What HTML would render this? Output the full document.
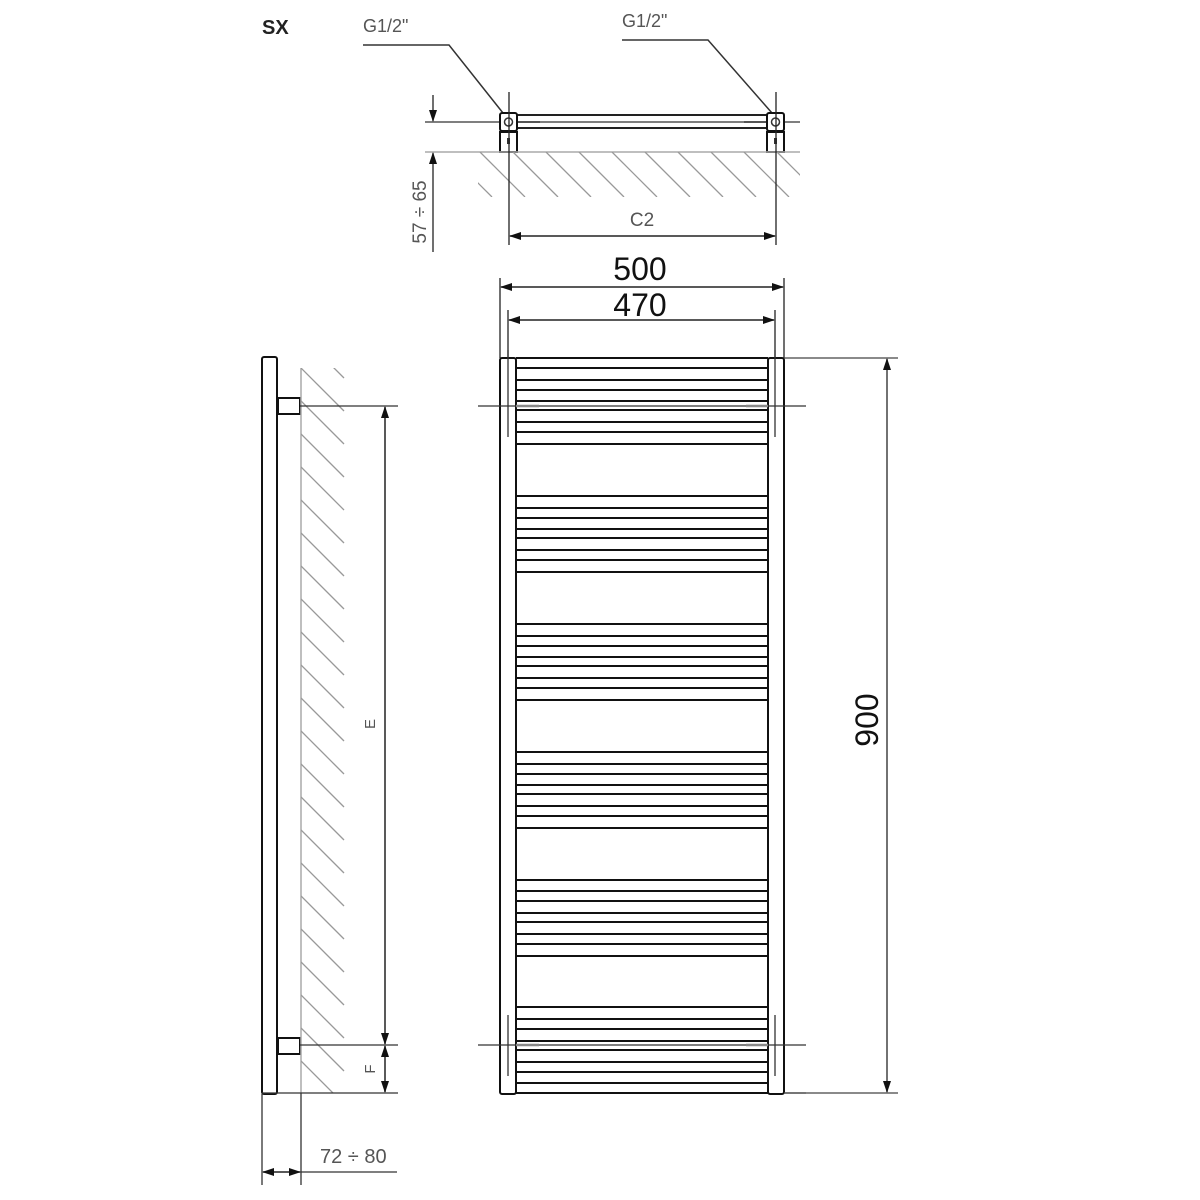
<!DOCTYPE html>
<html><head><meta charset="utf-8"><style>
html,body{margin:0;padding:0;background:#fff;}
svg{display:block;}
text{font-family:"Liberation Sans",sans-serif;}
</style></head><body>
<svg width="1200" height="1200" viewBox="0 0 1200 1200" xmlns="http://www.w3.org/2000/svg">
<defs>
<marker id="a" markerWidth="12" markerHeight="8" refX="11" refY="4" orient="auto-start-reverse" markerUnits="userSpaceOnUse">
<path d="M0,0 L12,4 L0,8 Z" fill="#111"/></marker>
<clipPath id="ct"><rect x="478" y="152" width="322" height="45"/></clipPath>
<clipPath id="cs"><rect x="301" y="368" width="50" height="725"/></clipPath>
</defs>

<text x="262" y="34" font-size="20" font-weight="bold" fill="#222">SX</text>

<!-- TOP VIEW -->
<text x="363" y="32" font-size="18" fill="#555">G1/2"</text>
<text x="622" y="27" font-size="18" fill="#555">G1/2"</text>
<polyline points="363,45 449,45 503,113" fill="none" stroke="#333" stroke-width="1.5"/>
<polyline points="622,40 708,40 772,113" fill="none" stroke="#333" stroke-width="1.5"/>
<!-- tube -->
<line x1="512" y1="115" x2="770" y2="115" stroke="#222" stroke-width="2"/>
<line x1="512" y1="128" x2="770" y2="128" stroke="#222" stroke-width="2"/>
<line x1="425" y1="122" x2="800" y2="122" stroke="#333" stroke-width="1.2"/>
<line x1="510" y1="122" x2="540" y2="122" stroke="#555" stroke-width="2"/>
<line x1="744" y1="122" x2="772" y2="122" stroke="#555" stroke-width="2"/>
<!-- connectors -->
<rect x="500" y="113" width="17" height="18" rx="2" fill="#fff" stroke="#111" stroke-width="2"/>
<circle cx="508.5" cy="122" r="4" fill="none" stroke="#333" stroke-width="1.5"/>
<rect x="500" y="132" width="17" height="20" fill="#fff" stroke="#111" stroke-width="2"/>
<rect x="507" y="138" width="3" height="6" fill="#333"/>
<rect x="767" y="113" width="17" height="18" rx="2" fill="#fff" stroke="#111" stroke-width="2"/>
<circle cx="775.5" cy="122" r="4" fill="none" stroke="#333" stroke-width="1.5"/>
<rect x="767" y="132" width="17" height="20" fill="#fff" stroke="#111" stroke-width="2"/>
<rect x="774" y="138" width="3" height="6" fill="#333"/>
<!-- wall -->
<line x1="425" y1="152" x2="800" y2="152" stroke="#aaa" stroke-width="1.5"/>
<g clip-path="url(#ct)" stroke="#999" stroke-width="1.3">
<line x1="447" y1="152" x2="492" y2="197"/><line x1="480" y1="152" x2="525" y2="197"/>
<line x1="513" y1="152" x2="558" y2="197"/><line x1="546" y1="152" x2="591" y2="197"/>
<line x1="579" y1="152" x2="624" y2="197"/><line x1="612" y1="152" x2="657" y2="197"/>
<line x1="645" y1="152" x2="690" y2="197"/><line x1="678" y1="152" x2="723" y2="197"/>
<line x1="711" y1="152" x2="756" y2="197"/><line x1="744" y1="152" x2="789" y2="197"/>
<line x1="777" y1="152" x2="822" y2="197"/>
</g>
<!-- extension lines -->
<line x1="509" y1="92" x2="509" y2="245" stroke="#222" stroke-width="1.3"/>
<line x1="776" y1="92" x2="776" y2="245" stroke="#222" stroke-width="1.3"/>
<!-- 57-65 dim -->
<line x1="433" y1="95" x2="433" y2="121" stroke="#222" stroke-width="1.3" marker-end="url(#a)"/>
<line x1="433" y1="252" x2="433" y2="153" stroke="#222" stroke-width="1.3" marker-end="url(#a)"/>
<text transform="translate(426,212) rotate(-90)" font-size="19" fill="#555" text-anchor="middle">57 ÷ 65</text>
<!-- C2 -->
<line x1="510" y1="236" x2="775" y2="236" stroke="#222" stroke-width="1.5" marker-start="url(#a)" marker-end="url(#a)"/>
<text x="642" y="226" font-size="19" fill="#555" text-anchor="middle">C2</text>

<!-- FRONT VIEW dims -->
<line x1="500" y1="278" x2="500" y2="358" stroke="#222" stroke-width="1.3"/>
<line x1="784" y1="278" x2="784" y2="358" stroke="#222" stroke-width="1.3"/>
<line x1="508" y1="310" x2="508" y2="358" stroke="#222" stroke-width="1.3"/>
<line x1="775" y1="310" x2="775" y2="358" stroke="#222" stroke-width="1.3"/>
<line x1="501" y1="287" x2="783" y2="287" stroke="#222" stroke-width="1.5" marker-start="url(#a)" marker-end="url(#a)"/>
<line x1="509" y1="320" x2="774" y2="320" stroke="#222" stroke-width="1.5" marker-start="url(#a)" marker-end="url(#a)"/>
<text x="640" y="280" font-size="32" fill="#111" text-anchor="middle">500</text>
<text x="640" y="316" font-size="32" fill="#111" text-anchor="middle">470</text>

<!-- radiator -->
<rect x="500" y="358" width="16" height="736" rx="2" fill="none" stroke="#111" stroke-width="2"/>
<rect x="768" y="358" width="16" height="736" rx="2" fill="none" stroke="#111" stroke-width="2"/>
<g stroke="#111" stroke-width="2">
<line x1="516" y1="358" x2="768" y2="358"/>
<line x1="516" y1="1093" x2="768" y2="1093"/>
<line x1="516" y1="368" x2="768" y2="368"/><line x1="516" y1="380" x2="768" y2="380"/><line x1="516" y1="390" x2="768" y2="390"/><line x1="516" y1="401" x2="768" y2="401"/><line x1="516" y1="410" x2="768" y2="410"/><line x1="516" y1="422" x2="768" y2="422"/><line x1="516" y1="432" x2="768" y2="432"/><line x1="516" y1="444" x2="768" y2="444"/>
<line x1="516" y1="496" x2="768" y2="496"/><line x1="516" y1="508" x2="768" y2="508"/><line x1="516" y1="518" x2="768" y2="518"/><line x1="516" y1="529" x2="768" y2="529"/><line x1="516" y1="538" x2="768" y2="538"/><line x1="516" y1="550" x2="768" y2="550"/><line x1="516" y1="560" x2="768" y2="560"/><line x1="516" y1="572" x2="768" y2="572"/>
<line x1="516" y1="624" x2="768" y2="624"/><line x1="516" y1="636" x2="768" y2="636"/><line x1="516" y1="646" x2="768" y2="646"/><line x1="516" y1="657" x2="768" y2="657"/><line x1="516" y1="666" x2="768" y2="666"/><line x1="516" y1="678" x2="768" y2="678"/><line x1="516" y1="688" x2="768" y2="688"/><line x1="516" y1="700" x2="768" y2="700"/>
<line x1="516" y1="752" x2="768" y2="752"/><line x1="516" y1="764" x2="768" y2="764"/><line x1="516" y1="774" x2="768" y2="774"/><line x1="516" y1="785" x2="768" y2="785"/><line x1="516" y1="794" x2="768" y2="794"/><line x1="516" y1="806" x2="768" y2="806"/><line x1="516" y1="816" x2="768" y2="816"/><line x1="516" y1="828" x2="768" y2="828"/>
<line x1="516" y1="880" x2="768" y2="880"/><line x1="516" y1="891" x2="768" y2="891"/><line x1="516" y1="901" x2="768" y2="901"/><line x1="516" y1="913" x2="768" y2="913"/><line x1="516" y1="922" x2="768" y2="922"/><line x1="516" y1="934" x2="768" y2="934"/><line x1="516" y1="944" x2="768" y2="944"/><line x1="516" y1="956" x2="768" y2="956"/>
<line x1="516" y1="1007" x2="768" y2="1007"/><line x1="516" y1="1019" x2="768" y2="1019"/><line x1="516" y1="1029" x2="768" y2="1029"/><line x1="516" y1="1041" x2="768" y2="1041"/><line x1="516" y1="1050" x2="768" y2="1050"/><line x1="516" y1="1062" x2="768" y2="1062"/><line x1="516" y1="1072" x2="768" y2="1072"/><line x1="516" y1="1083" x2="768" y2="1083"/>
</g>
<!-- connection markers -->
<g stroke="#333" stroke-width="1.3">
<line x1="478" y1="406" x2="806" y2="406"/>
<line x1="478" y1="1045" x2="806" y2="1045"/>
<line x1="508" y1="350" x2="508" y2="437"/><line x1="775" y1="350" x2="775" y2="437"/>
<line x1="508" y1="1015" x2="508" y2="1076"/><line x1="775" y1="1015" x2="775" y2="1076"/>
</g>
<g stroke="#888" stroke-width="2.5">
<line x1="516" y1="406" x2="539" y2="406"/><line x1="746" y1="406" x2="768" y2="406"/>
<line x1="516" y1="1045" x2="539" y2="1045"/><line x1="746" y1="1045" x2="768" y2="1045"/>
</g>
<line x1="784" y1="1093" x2="806" y2="1093" stroke="#333" stroke-width="1.3"/>
<!-- 900 -->
<line x1="784" y1="358" x2="898" y2="358" stroke="#444" stroke-width="1.3"/>
<line x1="784" y1="1093" x2="898" y2="1093" stroke="#444" stroke-width="1.3"/>
<line x1="887" y1="359" x2="887" y2="1092" stroke="#444" stroke-width="1.5" marker-start="url(#a)" marker-end="url(#a)"/>
<text transform="translate(878,720) rotate(-90)" font-size="32" fill="#111" text-anchor="middle">900</text>

<!-- SIDE VIEW -->
<rect x="262" y="357" width="15" height="737" rx="2" fill="none" stroke="#111" stroke-width="2"/>
<rect x="278" y="398" width="22" height="16" fill="#fff" stroke="#111" stroke-width="2"/>
<rect x="278" y="1038" width="22" height="16" fill="#fff" stroke="#111" stroke-width="2"/>
<line x1="301" y1="368" x2="301" y2="1093" stroke="#aaa" stroke-width="1.5"/>
<g clip-path="url(#cs)" stroke="#999" stroke-width="1.3">
<line x1="301" y1="335" x2="344" y2="378"/><line x1="301" y1="368" x2="344" y2="411"/>
<line x1="301" y1="401" x2="344" y2="444"/><line x1="301" y1="434" x2="344" y2="477"/>
<line x1="301" y1="467" x2="344" y2="510"/><line x1="301" y1="500" x2="344" y2="543"/>
<line x1="301" y1="533" x2="344" y2="576"/><line x1="301" y1="566" x2="344" y2="609"/>
<line x1="301" y1="599" x2="344" y2="642"/><line x1="301" y1="632" x2="344" y2="675"/>
<line x1="301" y1="665" x2="344" y2="708"/><line x1="301" y1="698" x2="344" y2="741"/>
<line x1="301" y1="731" x2="344" y2="774"/><line x1="301" y1="764" x2="344" y2="807"/>
<line x1="301" y1="797" x2="344" y2="840"/><line x1="301" y1="830" x2="344" y2="873"/>
<line x1="301" y1="863" x2="344" y2="906"/><line x1="301" y1="896" x2="344" y2="939"/>
<line x1="301" y1="929" x2="344" y2="972"/><line x1="301" y1="962" x2="344" y2="1005"/>
<line x1="301" y1="995" x2="344" y2="1038"/><line x1="301" y1="1028" x2="344" y2="1071"/>
<line x1="301" y1="1061" x2="334" y2="1094"/>
</g>
<g stroke="#333" stroke-width="1.3">
<line x1="300" y1="406" x2="398" y2="406"/>
<line x1="300" y1="1045" x2="398" y2="1045"/>
<line x1="262" y1="1093" x2="398" y2="1093"/>
</g>
<line x1="385" y1="407" x2="385" y2="1044" stroke="#222" stroke-width="1.5" marker-start="url(#a)" marker-end="url(#a)"/>
<line x1="385" y1="1046" x2="385" y2="1092" stroke="#222" stroke-width="1.5" marker-start="url(#a)" marker-end="url(#a)"/>
<text transform="translate(375,724) rotate(-90)" font-size="15" fill="#555" text-anchor="middle">E</text>
<text transform="translate(375,1069) rotate(-90)" font-size="15" fill="#555" text-anchor="middle">F</text>
<!-- 72-80 -->
<line x1="262" y1="1094" x2="262" y2="1185" stroke="#333" stroke-width="1.3"/>
<line x1="301" y1="1093" x2="301" y2="1185" stroke="#333" stroke-width="1.3"/>
<line x1="263" y1="1172" x2="300" y2="1172" stroke="#222" stroke-width="1.5" marker-start="url(#a)" marker-end="url(#a)"/>
<line x1="300" y1="1172" x2="397" y2="1172" stroke="#333" stroke-width="1.3"/>
<text x="320" y="1163" font-size="20" fill="#555">72 ÷ 80</text>
</svg>
</body></html>
